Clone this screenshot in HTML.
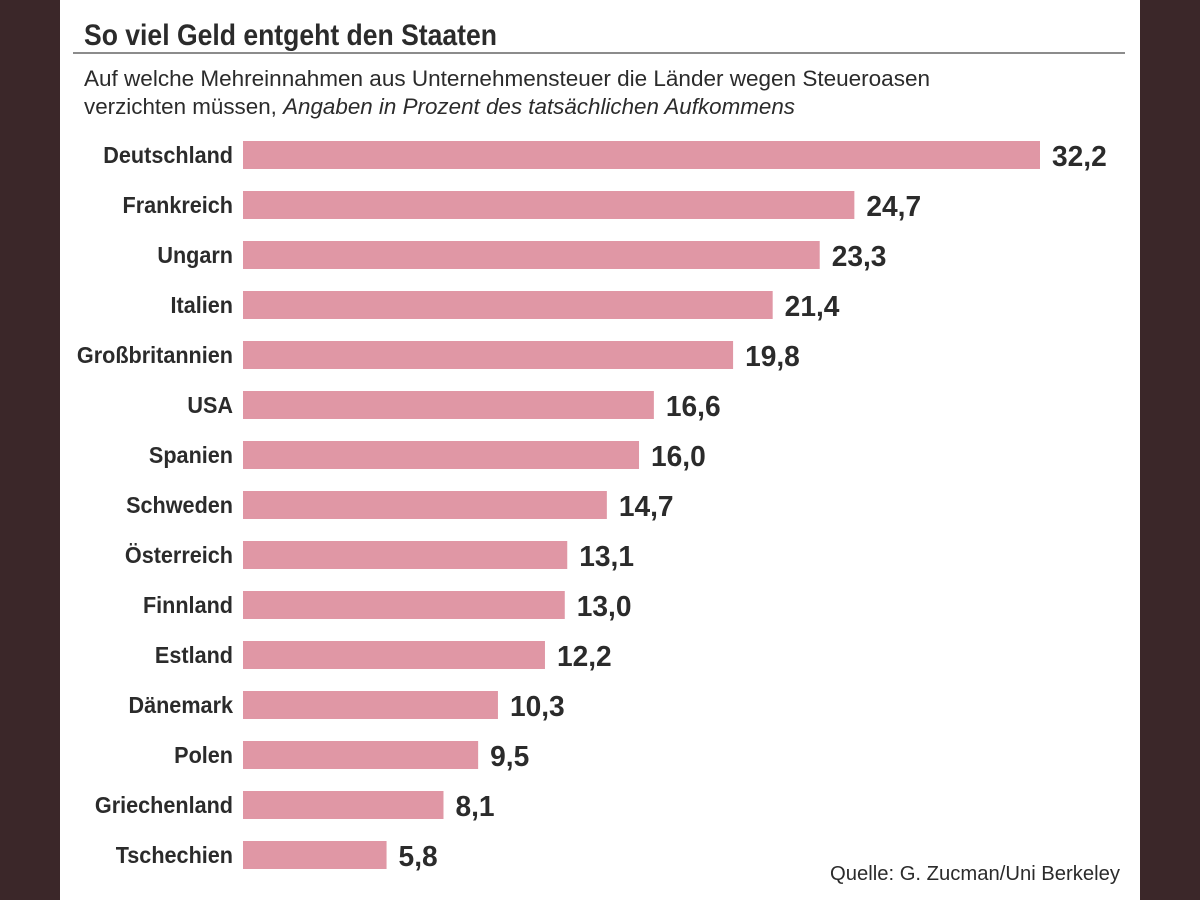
<!DOCTYPE html>
<html><head><meta charset="utf-8"><style>
html,body{margin:0;padding:0;background:#3b2729;}
svg{display:block;}
text{font-family:"Liberation Sans",sans-serif;fill:#2b2b2b;}
</style></head><body>
<svg width="1200" height="900">
<rect x="0" y="0" width="1200" height="900" fill="#3b2729"/>
<rect x="60" y="0" width="1080" height="900" fill="#ffffff"/>
<text x="84" y="45" font-size="30" font-weight="bold" textLength="413" lengthAdjust="spacingAndGlyphs">So viel Geld entgeht den Staaten</text>
<line x1="73" y1="53" x2="1125" y2="53" stroke="#666" stroke-width="1.5"/>
<text x="84" y="86" font-size="22" textLength="846" lengthAdjust="spacingAndGlyphs">Auf welche Mehreinnahmen aus Unternehmensteuer die Länder wegen Steueroasen</text>
<text x="84" y="114" font-size="22" textLength="711" lengthAdjust="spacingAndGlyphs">verzichten müssen, <tspan font-style="italic">Angaben in Prozent des tatsächlichen Aufkommens</tspan></text>
<g id="bars"></g>
<text x="1120" y="880" font-size="20" text-anchor="end" textLength="290" lengthAdjust="spacingAndGlyphs">Quelle: G. Zucman/Uni Berkeley</text>
</svg>
<script>
const categories = ["Deutschland","Frankreich","Ungarn","Italien","Großbritannien","USA","Spanien","Schweden","Österreich","Finnland","Estland","Dänemark","Polen","Griechenland","Tschechien"];
const values = [32.2,24.7,23.3,21.4,19.8,16.6,16.0,14.7,13.1,13.0,12.2,10.3,9.5,8.1,5.8];
const valueLabels = ["32,2","24,7","23,3","21,4","19,8","16,6","16,0","14,7","13,1","13,0","12,2","10,3","9,5","8,1","5,8"];

const NS = "http://www.w3.org/2000/svg";
const x0 = 243, pxPerUnit = (1040 - 243) / 32.2;
const xScale = v => x0 + v * pxPerUnit;
const yScale = i => 155 + i * 50;
const g = document.getElementById("bars");
categories.forEach((c, i) => {
  const cy = yScale(i);
  const r = document.createElementNS(NS, "rect");
  r.setAttribute("x", x0);
  r.setAttribute("y", cy - 14);
  r.setAttribute("width", xScale(values[i]) - x0);
  r.setAttribute("height", 28);
  r.setAttribute("fill", "#e097a5");
  
  
  g.appendChild(r);

  const l = document.createElementNS(NS, "text");
  l.setAttribute("transform", `translate(233,${cy + 8}) scale(0.94,1)`);
  l.setAttribute("text-anchor", "end");
  l.setAttribute("font-size", "23");
  l.setAttribute("font-weight", "bold");
  l.textContent = c;
  
  
  g.appendChild(l);

  const v = document.createElementNS(NS, "text");
  v.setAttribute("transform", `translate(${xScale(values[i]) + 12},${cy + 11}) scale(0.97,1)`);
  v.setAttribute("font-size", "29");
  v.setAttribute("font-weight", "bold");
  v.textContent = valueLabels[i];
  
  
  g.appendChild(v);
});
</script>
</body></html>
